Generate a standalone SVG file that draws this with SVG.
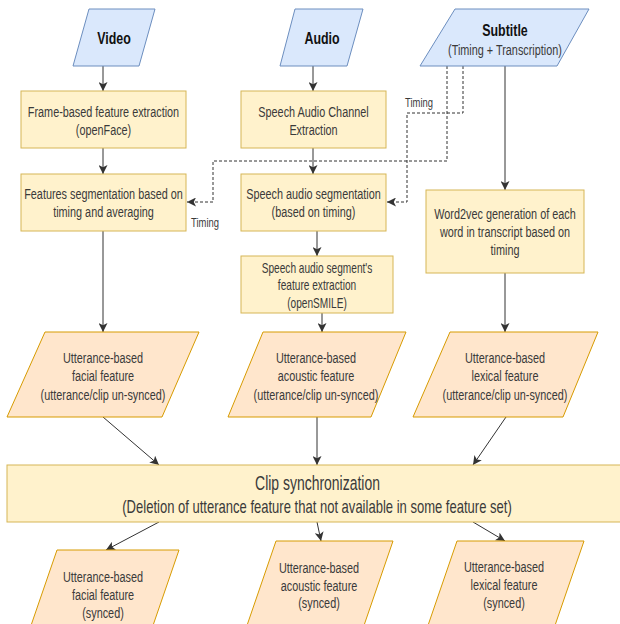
<svg xmlns="http://www.w3.org/2000/svg" width="620" height="624" viewBox="0 0 620 624">
<style>
.blue{fill:#dae8fc;stroke:#6c8ebf;stroke-width:1}
.yel{fill:#fff2cc;stroke:#d6b656;stroke-width:1}
.org{fill:#ffe6cc;stroke:#d79b00;stroke-width:1}
.t{font-family:"Liberation Sans",Arial,sans-serif;font-size:15px;fill:#3a3a3a;text-anchor:middle}
.s{font-size:14px}
.b{font-family:"Liberation Sans",Arial,sans-serif;font-size:17px;font-weight:bold;fill:#111111;text-anchor:middle}
.lbl{font-family:"Liberation Sans",Arial,sans-serif;font-size:13px;fill:#3a3a3a;text-anchor:middle}
.c{fill:none;stroke:#333333;stroke-width:1}
.d{fill:none;stroke:#333333;stroke-width:1;stroke-dasharray:3,2}
</style>
<defs>
<marker id="arr" markerUnits="userSpaceOnUse" markerWidth="9" markerHeight="9" viewBox="0 0 8 8" refX="8" refY="4" orient="auto">
<path d="M0,0 L8,4 L0,8 L2,4 z" fill="#333333"/>
</marker>
</defs>
<rect width="620" height="624" fill="#ffffff"/>

<g id="connectors">
<path class="c" d="M103,66 V91" marker-end="url(#arr)"/>
<path class="c" d="M313,66 V91" marker-end="url(#arr)"/>
<path class="c" d="M103,148 V174" marker-end="url(#arr)"/>
<path class="c" d="M313,148 V174" marker-end="url(#arr)"/>
<path class="c" d="M505,66 V190" marker-end="url(#arr)"/>
<path class="d" d="M447,66 V161 H213 V202 H187" marker-end="url(#arr)"/>
<path class="d" d="M463,66 V113 H407 V202 H387" marker-end="url(#arr)"/>
<path class="c" d="M317,231 V256" marker-end="url(#arr)"/>
<path class="c" d="M103,231 V332" marker-end="url(#arr)"/>
<path class="c" d="M322,313 V332" marker-end="url(#arr)"/>
<path class="c" d="M505,273 V332" marker-end="url(#arr)"/>
<path class="c" d="M103,417 L159,465" marker-end="url(#arr)"/>
<path class="c" d="M317,417 V465" marker-end="url(#arr)"/>
<path class="c" d="M506,417 L473,465" marker-end="url(#arr)"/>
<path class="c" d="M159,522 L106,550" marker-end="url(#arr)"/>
<path class="c" d="M317,522 L321,541" marker-end="url(#arr)"/>
<path class="c" d="M473,522 L505,541" marker-end="url(#arr)"/>
<text class="lbl" transform="translate(419,107) scale(0.724,1)">Timing</text>
<text class="lbl" transform="translate(205,227) scale(0.724,1)">Timing</text>
</g>

<g id="video">
<polygon class="blue" points="89,9 155,9 139,66 73,66"/>
<text class="b" transform="translate(114,44) scale(0.73,1)">Video</text>
</g>
<g id="audio">
<polygon class="blue" points="295,9 363,9 347,66 280,66"/>
<text class="b" transform="translate(322,44) scale(0.73,1)">Audio</text>
</g>
<g id="subtitle">
<polygon class="blue" points="455,9 589,9 557,66 420,66"/>
<text class="b" transform="translate(505,36) scale(0.73,1)">Subtitle</text>
<text class="t" transform="translate(505,55) scale(0.724,1)">(Timing + Transcription)</text>
</g>

<g id="frame-extraction">
<rect class="yel" x="21" y="91" width="165" height="57"/>
<text class="t" transform="translate(103.5,117) scale(0.724,1)"><tspan x="0" y="0">Frame-based feature extraction</tspan><tspan x="0" y="18">(openFace)</tspan></text>
</g>
<g id="audio-channel">
<rect class="yel" x="241" y="91" width="145" height="57"/>
<text class="t" transform="translate(313.5,117) scale(0.724,1)"><tspan x="0" y="0">Speech Audio Channel</tspan><tspan x="0" y="18">Extraction</tspan></text>
</g>
<g id="features-seg">
<rect class="yel" x="21" y="174" width="165" height="57"/>
<text class="t" transform="translate(103.5,199) scale(0.724,1)"><tspan x="0" y="0">Features segmentation based on</tspan><tspan x="0" y="18">timing and averaging</tspan></text>
</g>
<g id="audio-seg">
<rect class="yel" x="241" y="174" width="145" height="57"/>
<text class="t" transform="translate(313.5,199) scale(0.724,1)"><tspan x="0" y="0">Speech audio segmentation</tspan><tspan x="0" y="18">(based on timing)</tspan></text>
</g>
<g id="opensmile">
<rect class="yel" x="241" y="256" width="152" height="57"/>
<text class="t s" transform="translate(317,273) scale(0.724,1)"><tspan x="0" y="0">Speech audio segment's</tspan><tspan x="0" y="17.5">feature extraction</tspan><tspan x="0" y="35">(openSMILE)</tspan></text>
</g>
<g id="word2vec">
<rect class="yel" x="426" y="190" width="158" height="83"/>
<text class="t" transform="translate(505,219) scale(0.724,1)"><tspan x="0" y="0">Word2vec generation of each</tspan><tspan x="0" y="18">word in transcript based on</tspan><tspan x="0" y="36">timing</tspan></text>
</g>

<g id="facial-unsynced">
<polygon class="org" points="45,332 199,332 162,417 7,417"/>
<text class="t" transform="translate(103,363) scale(0.724,1)"><tspan x="0" y="0">Utterance-based</tspan><tspan x="0" y="18.5">facial feature</tspan><tspan x="0" y="37">(utterance/clip un-synced)</tspan></text>
</g>
<g id="acoustic-unsynced">
<polygon class="org" points="263,332 406,332 371,417 228,417"/>
<text class="t" transform="translate(316,363) scale(0.724,1)"><tspan x="0" y="0">Utterance-based</tspan><tspan x="0" y="18.5">acoustic feature</tspan><tspan x="0" y="37">(utterance/clip un-synced)</tspan></text>
</g>
<g id="lexical-unsynced">
<polygon class="org" points="450,332 598,332 563,417 413,417"/>
<text class="t" transform="translate(505,363) scale(0.724,1)"><tspan x="0" y="0">Utterance-based</tspan><tspan x="0" y="18.5">lexical feature</tspan><tspan x="0" y="37">(utterance/clip un-synced)</tspan></text>
</g>

<g id="clip-sync">
<rect class="yel" x="7" y="465" width="620" height="57"/>
<text class="t" style="font-size:19.3px" transform="translate(317.5,490) scale(0.724,1)">Clip synchronization</text>
<text class="t" style="font-size:18px" transform="translate(317,512.5) scale(0.724,1)">(Deletion of utterance feature that not available in some feature set)</text>
</g>

<g id="facial-synced">
<polygon class="org" points="57,550 179,550 148,640 26,640"/>
<text class="t" transform="translate(103,582) scale(0.724,1)"><tspan x="0" y="0">Utterance-based</tspan><tspan x="0" y="18">facial feature</tspan><tspan x="0" y="36">(synced)</tspan></text>
</g>
<g id="acoustic-synced">
<polygon class="org" points="276,541 393,541 359,640 242,640"/>
<text class="t" transform="translate(319,573) scale(0.724,1)"><tspan x="0" y="0">Utterance-based</tspan><tspan x="0" y="18">acoustic feature</tspan><tspan x="0" y="35">(synced)</tspan></text>
</g>
<g id="lexical-synced">
<polygon class="org" points="457,541 584,541 550,640 423,640"/>
<text class="t" transform="translate(504,572) scale(0.724,1)"><tspan x="0" y="0">Utterance-based</tspan><tspan x="0" y="18">lexical feature</tspan><tspan x="0" y="36">(synced)</tspan></text>
</g>
</svg>
